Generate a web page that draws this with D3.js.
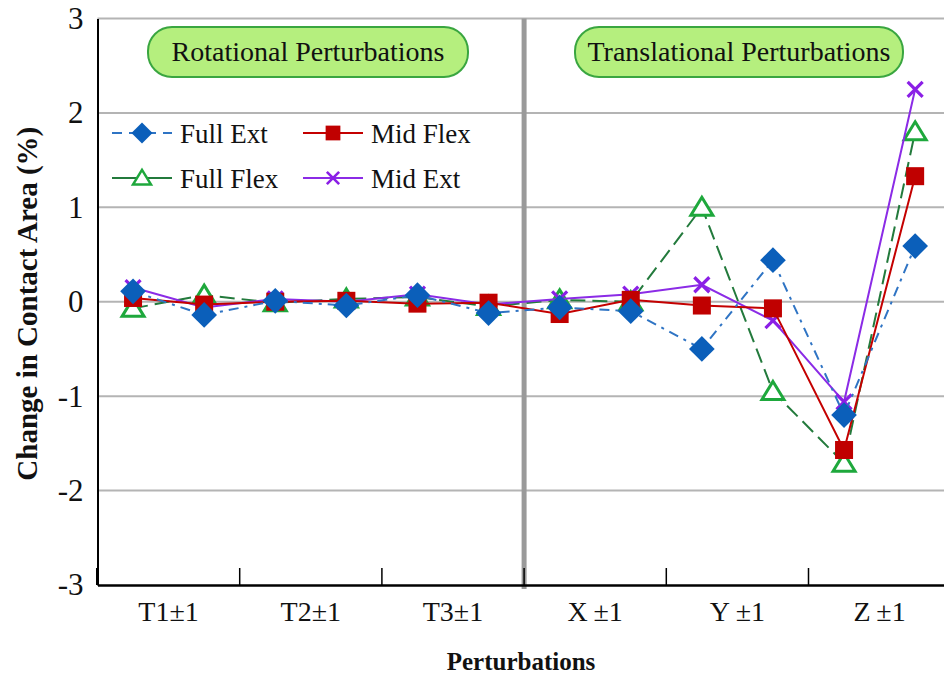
<!DOCTYPE html>
<html>
<head>
<meta charset="utf-8">
<script src="https://cdn.jsdelivr.net/npm/d3@7/dist/d3.min.js"></script>
<style>
  html, body { margin: 0; padding: 0; background: #fff; }
  svg text { font-family: "Liberation Serif", "Times New Roman", "DejaVu Serif", serif; }
</style>
</head>
<body>
<svg id="chart" width="944" height="679"></svg>
<script>
// Perturbation groups (each has a -1 and a +1 trial)
const categories = ["T1", "T2", "T3", "X", "Y", "Z"];
const categoryLabels = ["T1±1", "T2±1", "T3±1", "X\u2009±1", "Y\u2009±1", "Z\u2009±1"];
const trials = ["T1-", "T1+", "T2-", "T2+", "T3-", "T3+", "X-", "X+", "Y-", "Y+", "Z-", "Z+"];
const yTicks = [-3, -2, -1, 0, 1, 2, 3];

// Change in contact area (%) per trial
const fullExt  = [0.11, -0.14, 0.01, -0.04, 0.07, -0.12, -0.06, -0.10, -0.50, 0.44, -1.20, 0.59];
const midFlex  = [0.04, -0.03, 0.00, 0.01, -0.02, -0.01, -0.13, 0.02, -0.04, -0.07, -1.57, 1.33];
const fullFlex = [-0.07, 0.07, -0.01, 0.03, 0.05, -0.05, 0.02, 0.00, 1.00, -0.95, -1.71, 1.80];
const midExt   = [0.15, -0.06, 0.03, 0.00, 0.08, -0.03, 0.03, 0.08, 0.18, -0.20, -1.06, 2.25];

const seriesNames = ["Full Ext", "Mid Flex", "Full Flex", "Mid Ext"];
const groupNames = ["Rotational Perturbations", "Translational Perturbations"];

const FONT = "'Liberation Serif', 'Times New Roman', 'DejaVu Serif', serif";
const svg = d3.select("#chart");
const plotLeft = 97.5, plotRight = 950.7, plotTop = 18.5, plotBottom = 585;

const x = d3.scalePoint().domain(trials).range([plotLeft, plotRight]).padding(0.5);
const xBand = d3.scaleBand().domain(categories).range([plotLeft, plotRight]);
const y = d3.scaleLinear().domain([-3, 3]).range([plotBottom, plotTop]);

// horizontal gridlines
svg.append("g").selectAll("line").data(yTicks.filter(d => d > -3)).join("line")
  .attr("x1", plotLeft).attr("x2", 944)
  .attr("y1", d => y(d)).attr("y2", d => y(d))
  .attr("stroke", "#b4b4b4").attr("stroke-width", 2);

// group title boxes
const boxes = [
  { name: groupNames[0], x0: 148, x1: 468 },
  { name: groupNames[1], x0: 575, x1: 903 }
];
const gb = svg.append("g").selectAll("g").data(boxes).join("g");
gb.append("rect")
  .attr("x", d => d.x0).attr("y", 27)
  .attr("width", d => d.x1 - d.x0).attr("height", 50)
  .attr("rx", 24).attr("ry", 24)
  .attr("fill", "#b5ef7e").attr("stroke", "#3aa640").attr("stroke-width", 2);
gb.append("text")
  .attr("x", d => (d.x0 + d.x1) / 2).attr("y", 61)
  .attr("text-anchor", "middle").attr("font-family", FONT).attr("font-size", 28).attr("fill", "#111")
  .text(d => d.name);

// divider between rotational and translational groups
svg.append("line")
  .attr("x1", xBand("X")).attr("x2", xBand("X"))
  .attr("y1", plotTop).attr("y2", plotBottom + 4)
  .attr("stroke", "#9a9a9a").attr("stroke-width", 5);

// axes
const yAxis = d3.axisLeft(y).tickValues(yTicks).tickSize(0).tickPadding(14).tickFormat(d => String(d));
const gy = svg.append("g").attr("transform", `translate(${plotLeft},0)`).call(yAxis);
gy.attr("font-family", FONT);
gy.select(".domain").attr("stroke", "#000").attr("stroke-width", 2);
gy.selectAll("text").attr("font-size", 31).attr("font-family", FONT).attr("fill", "#111");

const xAxis = d3.axisBottom(xBand).tickSize(0).tickFormat((d, i) => categoryLabels[i]);
const gx = svg.append("g").attr("transform", `translate(0,${plotBottom})`).call(xAxis);
gx.attr("font-family", FONT);
gx.select(".domain").attr("stroke", "#000").attr("stroke-width", 2.5);
gx.selectAll("text").attr("font-size", 28).attr("font-family", FONT)
  .attr("fill", "#111").attr("dy", 0).attr("y", 36);

// category boundary ticks pointing up into the plot
svg.append("g").selectAll("line").data(categories.slice(1)).join("line")
  .attr("x1", d => xBand(d)).attr("x2", d => xBand(d))
  .attr("y1", plotBottom).attr("y2", plotBottom - 17)
  .attr("stroke", "#000").attr("stroke-width", 1.5);
svg.append("line").attr("x1", plotLeft).attr("x2", plotLeft)
  .attr("y1", plotBottom).attr("y2", plotBottom - 17)
  .attr("stroke", "#000").attr("stroke-width", 3);

// axis titles
svg.append("text")
  .attr("transform", `translate(37,${(plotTop + plotBottom) / 2 + 2}) rotate(-90)`)
  .attr("text-anchor", "middle").attr("font-family", FONT).attr("font-size", 29)
  .attr("font-weight", "bold").attr("fill", "#111")
  .text("Change in Contact Area (%)");
svg.append("text")
  .attr("x", 521).attr("y", 670)
  .attr("text-anchor", "middle").attr("font-family", FONT).attr("font-size", 25)
  .attr("font-weight", "bold").attr("fill", "#111")
  .text("Perturbations");

// marker shapes
const diamond = d3.symbol().type(d3.symbolSquare).size(330);
function drawMarker(g, type, style) {
  if (type === "diamond") {
    g.append("path").attr("d", diamond()).attr("transform", "rotate(45)")
      .attr("fill", style.marker);
  } else if (type === "square") {
    g.append("rect").attr("x", -9).attr("y", -9).attr("width", 18).attr("height", 18)
      .attr("fill", style.marker);
  } else if (type === "triangle") {
    g.append("path").attr("d", "M0,-10L11,8L-11,8Z")
      .attr("fill", "#fff").attr("stroke", style.marker).attr("stroke-width", 3)
      .attr("stroke-linejoin", "miter");
  } else if (type === "cross") {
    g.append("path").attr("d", "M-7.5,-7.5L7.5,7.5M-7.5,7.5L7.5,-7.5")
      .attr("stroke", style.marker).attr("stroke-width", 3.2);
  }
}

const series = [
  { name: seriesNames[2], values: fullFlex, line: "#237a3c", marker: "#1ea83c", dash: "15,7", shape: "triangle", w: 2 },
  { name: seriesNames[3], values: midExt, line: "#8b2be6", marker: "#8b1fe6", dash: null, shape: "cross", w: 2 },
  { name: seriesNames[1], values: midFlex, line: "#c40000", marker: "#c00000", dash: null, shape: "square", w: 2 },
  { name: seriesNames[0], values: fullExt, line: "#2f74c4", marker: "#0b5fba", dash: "10,6,3,6", shape: "diamond", w: 2 }
];

const line = d3.line().x((d, i) => x(trials[i])).y(d => y(d));

series.forEach(s => {
  const g = svg.append("g");
  g.append("path").datum(s.values).attr("d", line)
    .attr("fill", "none").attr("stroke", s.line).attr("stroke-width", s.w)
    .attr("stroke-dasharray", s.dash);
  g.selectAll("g.m").data(s.values).join("g").attr("class", "m")
    .attr("transform", (d, i) => `translate(${x(trials[i])},${y(d)})`)
    .each(function () { drawMarker(d3.select(this), s.shape, s); });
});

// legend
const legendItems = [
  { s: series[3], lx: 112, ly: 133, dash: "10,7" },
  { s: series[2], lx: 303, ly: 133 },
  { s: series[0], lx: 112, ly: 178 },
  { s: series[1], lx: 303, ly: 178 }
];
const lg = svg.append("g").selectAll("g").data(legendItems).join("g")
  .attr("transform", d => `translate(${d.lx},${d.ly})`);
lg.append("line").attr("x1", 0).attr("x2", 60).attr("y1", 0).attr("y2", 0)
  .attr("stroke", d => d.s.line).attr("stroke-width", 2)
  .attr("stroke-dasharray", d => d.dash || null);
lg.each(function (d) {
  const m = d3.select(this).append("g").attr("transform", "translate(30,0) scale(0.82)");
  drawMarker(m, d.s.shape, d.s);
});
lg.append("text").attr("x", 68).attr("y", 9.5)
  .attr("font-family", FONT).attr("font-size", 27).attr("fill", "#111")
  .text(d => d.s.name);
</script>
</body>
</html>
